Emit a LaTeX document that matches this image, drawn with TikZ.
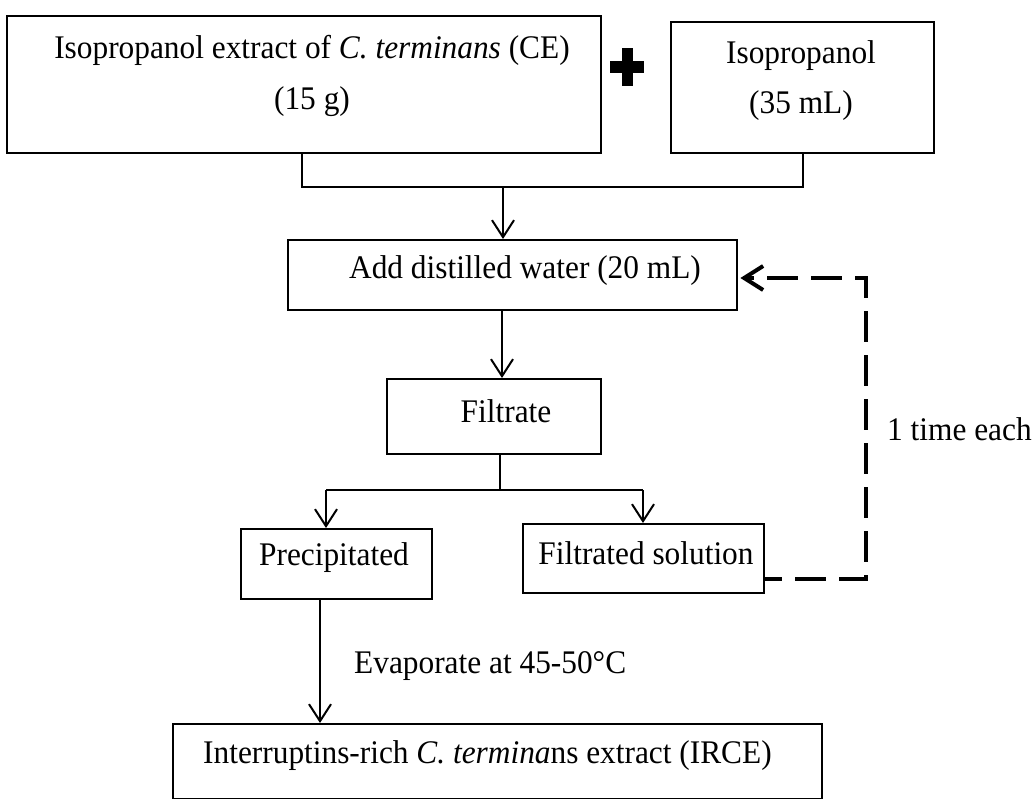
\documentclass[tikz,border=0pt]{standalone}
\usepackage{fontspec}
\setmainfont{Liberation Serif}[FakeStretch=0.95]
\usetikzlibrary{arrows.meta}
\begin{document}
\begin{tikzpicture}[x=1pt,y=-1pt,
  box/.style={draw, line width=2.4pt, inner sep=0pt, anchor=north west},
  txt/.style={font=\fontsize{33}{40}\selectfont, inner sep=0pt, anchor=base},
  ln/.style={line width=2pt},
  arr/.style={ln, -{Straight Barb[length=17pt,width=22pt]}},
  dsh/.style={line width=4pt, dash pattern=on 31pt off 13pt, dash phase=14pt,
    -{Straight Barb[length=19pt,width=24pt]}}
]
\useasboundingbox (0,0) rectangle (1035,799);
\fill[white] (0,0) rectangle (1035,799);

% boxes
\node[box, minimum width=594pt, minimum height=137pt] (b1) at (6,15) {};
\node[box, minimum width=263pt, minimum height=131pt] (b2) at (670,21) {};
\node[box, minimum width=449pt, minimum height=70pt] (b3) at (287,239) {};
\node[box, minimum width=214pt, minimum height=75pt] (b4) at (386,378) {};
\node[box, minimum width=191pt, minimum height=70pt] (b5) at (240,528) {};
\node[box, minimum width=241pt, minimum height=69pt] (b6) at (522,523) {};
\node[box, minimum width=649pt, minimum height=75pt] (b7) at (172,723) {};

% texts
\node[txt] (t1a) at (312,59) {Isopropanol extract of \textit{C. terminans} (CE)};
\node[txt] (t1b) at (312,110) {(15 g)};
\node[txt] (t2a) at (801,64) {Isopropanol};
\node[txt] (t2b) at (801,114) {(35 mL)};
\node[txt] (t3) at (525,279) {Add distilled water (20 mL)};
\node[txt] (t4) at (506,422) {Filtrate};
\node[txt] (t5) at (334,565) {Precipitated};
\node[txt] (t6) at (646,564) {Filtrated solution};
\node[txt, anchor=base west] (t7) at (203,763) {Interruptins-rich \textit{C. termina}ns extract (IRCE)};
\node[txt, anchor=base west] (ev) at (354,673) {Evaporate at 45-50\textdegree C};
\node[txt, anchor=base west] (te) at (887,440) {1 time each};

% plus sign
\fill (610,61) rectangle (644,73);
\fill (622,48) rectangle (633,86);

% connectors
\coordinate (j1) at (302,187);
\coordinate (j2) at (803,187);
\coordinate (jm) at (503,187);
\draw[ln] (b1.south -| j1) -- (j1) -- (j2) -- (b2.south -| j2);
\draw[arr] (jm) -- (b3.north -| jm);

\coordinate (a2) at (502,330);
\draw[arr] (b3.south -| a2) -- (b4.north -| a2);

\coordinate (br) at (500,490);
\coordinate (bl) at (326,490);
\coordinate (brr) at (643,490);
\draw[ln] (b4.south -| br) -- (br);
\draw[ln] (bl) -- (brr);
\draw[arr] (bl) -- (b5.north -| bl);
\draw[arr] (brr) -- (b6.north -| brr);

\coordinate (ea) at (320,650);
\draw[arr] (b5.south -| ea) -- (b7.north -| ea);

\coordinate (d1) at (866,579);
\coordinate (d2) at (866,278);
\draw[dsh, shorten >=2pt] (b6.east |- d1) -- (d1) -- (d2) -- (b3.east |- d2);
\end{tikzpicture}
\end{document}
